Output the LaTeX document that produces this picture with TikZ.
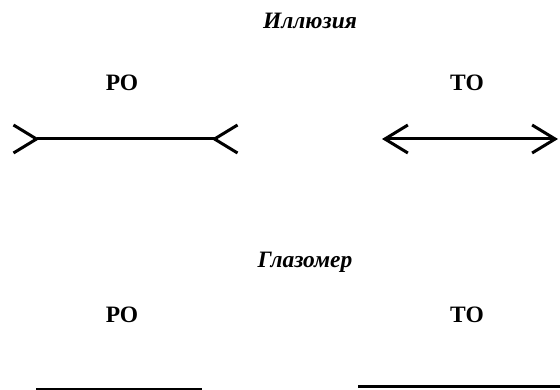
\documentclass[tikz,border=0pt]{standalone}
\usepackage{fontspec}
\setmainfont{Liberation Serif}
\usetikzlibrary{arrows.meta}
\tikzset{
  heading/.style={font=\fontsize{23.5}{27}\selectfont\bfseries\itshape},
  tag/.style={font=\fontsize{23.5}{27}\selectfont\bfseries},
  seg/.style={line width=3pt},
  barb/.tip={Straight Barb[length=23pt,width=28pt,line width=3pt]},
  rbarb/.tip={Straight Barb[reversed,length=23pt,width=28pt,line width=3pt]}
}
\begin{document}
\begin{tikzpicture}[x=1pt,y=-1pt]
  \useasboundingbox (0,0) rectangle (560,390);

  % Иллюзия
  \node[heading] (illus) at (310,21) {Иллюзия};
  \node[tag] (ro1) at (122,83) {РО};
  \node[tag] (to1) at (467,83) {ТО};

  \coordinate (ro1a) at (12,139);
  \coordinate (ro1b) at (239,139);
  \draw[seg, rbarb-rbarb] (ro1a) -- (ro1b);

  \coordinate (to1a) at (382,139);
  \coordinate (to1b) at (558,139);
  \draw[seg, barb-barb] (to1a) -- (to1b);

  % Глазомер
  \node[heading] (glaz) at (305,262) {Глазомер};
  \node[tag] (ro2) at (122,315) {РО};
  \node[tag] (to2) at (467,315) {ТО};

  \coordinate (ro2a) at (36,389);
  \coordinate (ro2b) at (202,389);
  \draw[seg] (ro2a) -- (ro2b);

  \coordinate (to2a) at (358,386);
  \coordinate (to2b) at (560,386);
  \draw[seg] (to2a) -- (to2b);
\end{tikzpicture}
\end{document}
